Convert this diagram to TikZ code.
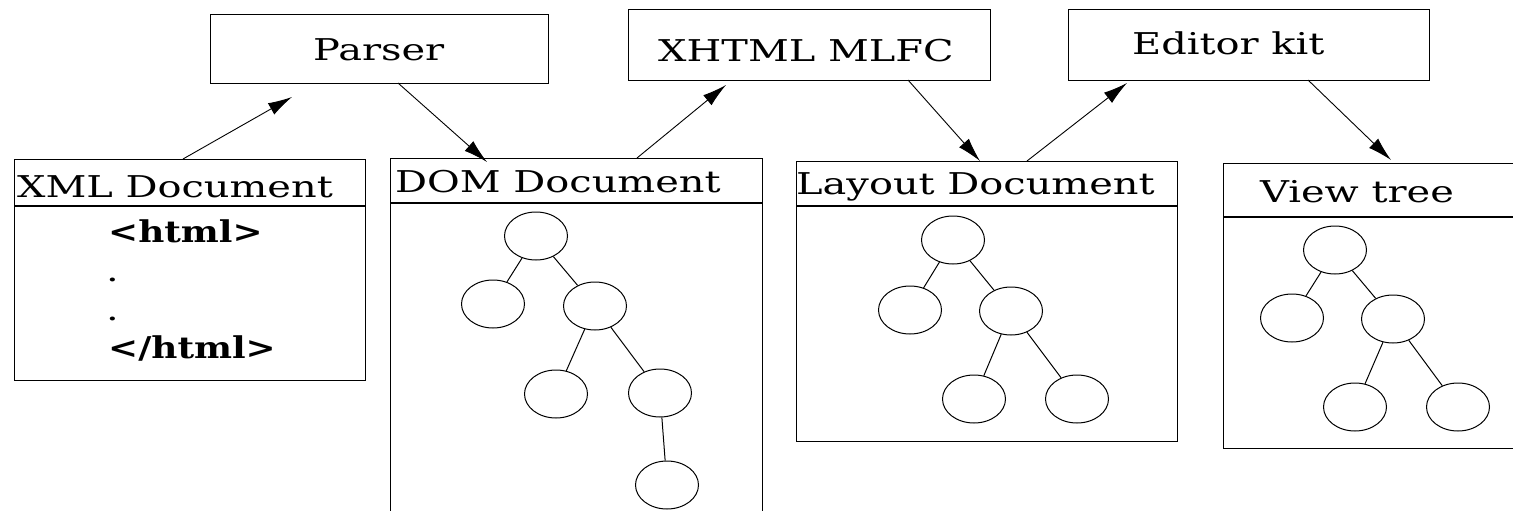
\documentclass[tikz,border=0pt]{standalone}
\usepackage{fontspec}
\setmainfont[FakeStretch=1.33]{DejaVu Serif}
\newfontfamily\tagFont[FakeStretch=1.33]{DejaVu Serif Condensed Bold}
\usepackage{tikz}
\usetikzlibrary{shapes.geometric}
\usetikzlibrary{arrows.meta}

\begin{document}
\begin{tikzpicture}[x=1pt,y=-1pt,font=\fontsize{30}{36}\selectfont]

          \tikzstyle{topBox} = [draw, line width=1.2pt, anchor=north west, inner sep=0];
          \tikzstyle{docBox} = [draw, line width=1.2pt, anchor=north west, inner sep=0];
          \tikzstyle{docLabel} = [anchor=base west, inner sep=0];
          \tikzstyle{tagLabel} = [anchor=base west, inner sep=0, font=\tagFont\fontsize{30}{36}\selectfont];
          \tikzstyle{treeNode} = [draw, ellipse, line width=1pt, minimum width=63pt, minimum height=48pt, inner sep=0];

          \tikzstyle{treeEdge} = [line width=1pt];
          \tikzstyle{flowEdge} = [line width=0.9pt, -{Latex[length=24pt,width=13pt]}];

          \useasboundingbox (0,0) rectangle (1513,511);

          % the three workers on top
          \node[topBox, minimum width=338pt, minimum height=69pt] (parser) at (210,14) {};
          \node[topBox, minimum width=362pt, minimum height=71pt] (mlfc) at (628,9) {};
          \node[topBox, minimum width=361pt, minimum height=71pt] (kit) at (1068,9) {};
          \node[docLabel] (parserText) at (313,61) {Parser};
          \node[docLabel] (mlfcText) at (658,62) {XHTML MLFC};
          \node[docLabel] (kitText) at (1132,55) {Editor kit};

          % the four documents
          \node[docBox, minimum width=351pt, minimum height=221pt] (xml) at (14,159) {};
          \node[docBox, minimum width=372pt, minimum height=370pt] (dom) at (390,158) {};
          \node[docBox, minimum width=381pt, minimum height=280pt] (layout) at (796,161) {};
          \node[docBox, minimum width=292pt, minimum height=285pt] (view) at (1223,163) {};
          \draw[line width=1.2pt] (xml.north west) ++(0,47) -- ++(351,0);
          \draw[line width=1.2pt] (dom.north west) ++(0,45) -- ++(372,0);
          \draw[line width=1.2pt] (layout.north west) ++(0,45) -- ++(381,0);
          \draw[line width=1.2pt] (view.north west) ++(0,54) -- ++(292,0);
          \node[docLabel] (xmlText) at (17,197) {XML Document};
          \node[docLabel] (domText) at (395,192) {DOM Document};
          \node[docLabel] (layoutText) at (796,194) {Layout Document};
          \node[docLabel] (viewText) at (1260,202) {View tree};

          % xml source
          \node[tagLabel] (open) at (108,242) {<html>};
          \node[docLabel] (dotA) at (106,281) {.};
          \node[docLabel] (dotB) at (106,320) {.};
          \node[tagLabel] (close) at (108,358) {</html>};

          % dom tree
          \node[treeNode] (d1) at (536,236) {};
          \node[treeNode] (d2) at (493,304) {};
          \node[treeNode] (d3) at (595,306) {};
          \node[treeNode] (d4) at (556,394) {};
          \node[treeNode] (d5) at (660,393) {};
          \node[treeNode] (d6) at (667,485) {};
          \draw[treeEdge] (d1) -- (d2);
          \draw[treeEdge] (d1) -- (d3);
          \draw[treeEdge] (d3) -- (d4);
          \draw[treeEdge] (d3) -- (d5);
          \draw[treeEdge] (d5) -- (d6);

          % layout tree
          \node[treeNode] (l1) at (953,240) {};
          \node[treeNode] (l2) at (910,310) {};
          \node[treeNode] (l3) at (1011,311) {};
          \node[treeNode] (l4) at (974,399) {};
          \node[treeNode] (l5) at (1077,399) {};
          \draw[treeEdge] (l1) -- (l2);
          \draw[treeEdge] (l1) -- (l3);
          \draw[treeEdge] (l3) -- (l4);
          \draw[treeEdge] (l3) -- (l5);

          % view tree
          \node[treeNode] (v1) at (1335,250) {};
          \node[treeNode] (v2) at (1292,318) {};
          \node[treeNode] (v3) at (1393,319) {};
          \node[treeNode] (v4) at (1355,407) {};
          \node[treeNode] (v5) at (1458,407) {};
          \draw[treeEdge] (v1) -- (v2);
          \draw[treeEdge] (v1) -- (v3);
          \draw[treeEdge] (v3) -- (v4);
          \draw[treeEdge] (v3) -- (v5);

          % arrow ends
          \coordinate (xmlOut) at (183,159);
          \coordinate (parserIn) at (292,97);
          \coordinate (parserOut) at (398,83);
          \coordinate (domIn) at (487,162);
          \coordinate (domOut) at (637,158);
          \coordinate (mlfcIn) at (726,85);
          \coordinate (mlfcOut) at (908,80);
          \coordinate (layoutIn) at (980,161);
          \coordinate (layoutOut) at (1027,161);
          \coordinate (kitIn) at (1127,83);
          \coordinate (kitOut) at (1308,80);
          \coordinate (viewIn) at (1391,160);

          \draw[flowEdge] (xmlOut) -- (parserIn);
          \draw[flowEdge] (parserOut) -- (domIn);
          \draw[flowEdge] (domOut) -- (mlfcIn);
          \draw[flowEdge] (mlfcOut) -- (layoutIn);
          \draw[flowEdge] (layoutOut) -- (kitIn);
          \draw[flowEdge] (kitOut) -- (viewIn);
        \end{tikzpicture}
\end{document}
